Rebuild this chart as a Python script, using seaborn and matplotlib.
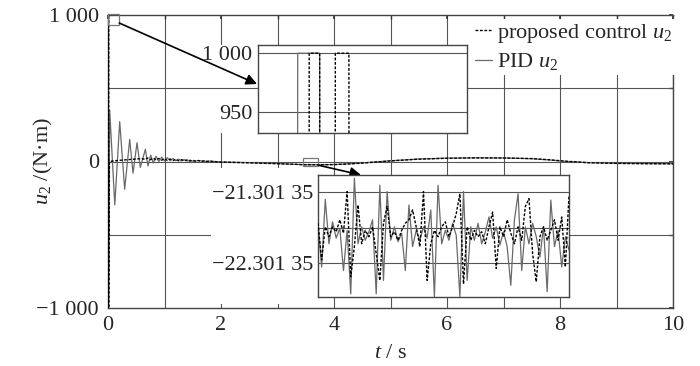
import matplotlib
matplotlib.use("Agg")
import matplotlib.pyplot as plt
import numpy as np
import pandas as pd
import seaborn as sns
from matplotlib.patches import Rectangle
from matplotlib.ticker import FixedLocator, MultipleLocator

sns.set_theme(style="white")
plt.rcParams["font.family"] = ["Liberation Serif", "DejaVu Serif"]
plt.rcParams["mathtext.fontset"] = "custom"
plt.rcParams["mathtext.rm"] = "Liberation Serif"
plt.rcParams["mathtext.it"] = "Liberation Serif:italic"

# ---------------------------------------------------------------------------
# data
# ---------------------------------------------------------------------------
# start-up transient (both controllers saturate at +/-1000 first)
prop_t_start = [0, 0.0048, 0.0049, 0.0059, 0.0060, 0.0073, 0.0074, 0.0087, 0.0088, 0.012,
                0.025, 0.1, 0.2, 0.3, 0.4, 0.5, 0.6, 0.65, 0.7, 0.75, 0.8, 0.85, 0.9, 0.95,
                1.0, 1.05, 1.1, 1.15, 1.2, 1.25, 1.3, 1.35, 1.4, 1.45, 1.5, 1.55, 1.6, 1.65,
                1.7, 1.75, 1.8, 1.9, 2.0, 2.5, 3.0, 3.3]
prop_u_start = [0, -1000, 1000, 1000, -1000, -1000, 1000, 1000, -1000, -1000,
                0, 4, 8, 11, 14, 17, 20, 14, 24, 12, 23, 10, 21, 9,
                19, 7, 17, 6, 15, 5, 13, 4, 11, 3, 9, 2, 7, 1,
                5, 0, 2, -2, -4, -9, -15, -19]

pid_t_start = [0, 0.0037, 0.0038, 0.0059, 0.0060, 0.03, 0.12, 0.207, 0.295, 0.384, 0.443,
               0.513, 0.572, 0.661, 0.708, 0.755, 0.80, 0.85, 0.90, 0.95, 1.0, 1.05, 1.1,
               1.15, 1.2, 1.25, 1.3, 1.35, 1.4, 1.45, 1.5, 1.6, 1.7, 1.8, 1.9, 2.0, 2.5,
               3.0, 3.3]
pid_u_start = [0, 0, 1000, 1000, -1000, 352, -297, 272, -190, 151, -80,
               128, -40, 83, -31, 44, -10, 35, 0, 30, 4, 26, 5,
               20, 6, 16, 4, 13, 3, 10, 2, 6, 1, 3, 0, -3, -8,
               -14, -19]

# zoomed window t = 3.45 ... 3.72 s
zoom_t = np.linspace(3.45, 3.72, 70)
prop_u_zoom = [-21.74, -22.26, -21.79, -21.93, -21.79, -21.86, -21.69, -21.88, -21.29, -22.50,
               -22.07, -21.48, -22.03, -21.84, -21.93, -21.79, -22.17, -22.55, -21.74, -21.50,
               -21.93, -21.86, -21.98, -21.84, -21.74, -21.69, -21.55, -21.79, -22.07, -21.29,
               -22.55, -22.03, -21.84, -21.93, -21.79, -21.72, -21.93, -21.79, -21.60, -21.32,
               -22.60, -21.79, -21.98, -21.84, -21.93, -21.86, -22.03, -21.79, -21.58, -22.38,
               -21.79, -21.93, -21.69, -21.88, -22.03, -21.79, -21.98, -21.50, -21.39, -22.17,
               -22.57, -21.93, -21.79, -21.98, -21.84, -21.69, -21.98, -21.65, -22.36, -21.34]
pid_u_zoom = [-21.74, -22.36, -21.40, -22.03, -21.72, -21.95, -21.81, -22.41, -21.84, -22.74,
              -21.10, -22.03, -21.79, -21.98, -21.86, -21.69, -22.74, -21.20, -22.55, -21.29,
              -21.98, -21.79, -22.00, -21.88, -22.41, -21.48, -22.07, -21.84, -21.98, -21.79,
              -21.95, -21.55, -22.78, -21.20, -22.03, -21.84, -21.98, -21.74, -21.91, -22.78,
              -21.29, -22.55, -21.79, -21.98, -21.74, -22.03, -21.86, -21.65, -21.95, -21.79,
              -22.05, -21.86, -22.07, -22.62, -21.69, -21.32, -22.41, -21.79, -22.03, -21.74,
              -21.93, -22.22, -21.79, -22.71, -21.41, -22.07, -21.84, -22.36, -21.93, -22.12]

# slow drift afterwards
late_t = [3.8, 4.0, 4.3, 4.6, 5.0, 5.5, 6.0, 6.5, 7.0, 7.5, 7.8, 8.1, 8.5, 9.0, 9.5, 10.0]
prop_u_late = [-22, -21, -16, -8, 4, 16, 22, 25, 24, 20, 12, 2, -8, -13, -15, -16]
pid_u_late = [-22, -21, -15, -7, 5, 17, 23, 25, 24, 19, 11, 1, -8, -12, -14, -15]

prop = pd.DataFrame({
    "t": np.concatenate([prop_t_start, zoom_t, late_t]),
    "u": np.concatenate([prop_u_start, prop_u_zoom, prop_u_late]),
})
pid = pd.DataFrame({
    "t": np.concatenate([pid_t_start, zoom_t, late_t]),
    "u": np.concatenate([pid_u_start, pid_u_zoom, pid_u_late]),
})

PROP_STYLE = dict(color="black", linewidth=1.0, linestyle=(0, (2.0, 1.2)))
PID_STYLE = dict(color="#6a6a6a", linewidth=0.9, linestyle="-")
GRID = dict(color="#555555", linewidth=0.8)
FS = 16

# ---------------------------------------------------------------------------
# main axes
# ---------------------------------------------------------------------------
fig = plt.figure(figsize=(7.0, 3.66), dpi=100)
ax = fig.add_axes([108 / 700, 1 - 308 / 366, 565 / 700, 293 / 366])

sns.lineplot(data=prop, x="t", y="u", ax=ax, estimator=None, sort=False,
             label=r"proposed control $u_2$", zorder=3, **PROP_STYLE)
sns.lineplot(data=pid, x="t", y="u", ax=ax, estimator=None, sort=False,
             label=r"PID $u_2$", zorder=2, **PID_STYLE)

ax.set_xlim(0, 10)
ax.set_ylim(-1000, 1000)
ax.xaxis.set_major_locator(MultipleLocator(2))
ax.xaxis.set_minor_locator(MultipleLocator(1))
ax.yaxis.set_major_locator(FixedLocator([-1000, 0, 1000]))
ax.yaxis.set_minor_locator(FixedLocator([-500, 500]))
ax.set_yticklabels(["\u22121 000", "0", "1 000"])
ax.grid(axis="x", which="both", **GRID)
ax.set_axisbelow(True)
for yv in [-500, 0, 500]:
    ax.axhline(yv, zorder=1.6, **GRID)
ax.tick_params(which="both", direction="in", length=3, color="#333333",
               labelsize=FS, top=True, right=True)
ax.tick_params(axis="x", pad=6)
ax.tick_params(axis="y", pad=6.5)
for s in ax.spines.values():
    s.set_color("#444444")
    s.set_linewidth(1.0)
ax.set_xlabel(r"$t$ / s", fontsize=FS, labelpad=6)
ax.set_ylabel(r"$u_2$ /(N·m)", fontsize=FS)
ax.yaxis.set_label_coords(-0.094, 0.5)

leg = ax.legend(loc="upper right", bbox_to_anchor=(1.003, 0.985), fontsize=FS,
                frameon=True, framealpha=1, facecolor="white", edgecolor="none",
                handlelength=0.8, handletextpad=0.2, borderpad=0.1,
                borderaxespad=0.0, labelspacing=0.3, fancybox=False)
leg.set_zorder(5)

# white areas behind the inset tick labels
ax.add_patch(Rectangle((205 / 700, 1 - 133 / 366), 53 / 700, 88 / 366,
                       transform=fig.transFigure, facecolor="white", edgecolor="none",
                       zorder=1.5, clip_on=False))
ax.add_patch(Rectangle((211 / 700, 1 - 304 / 366), 107 / 700, 136 / 366,
                       transform=fig.transFigure, facecolor="white", edgecolor="none",
                       zorder=2.5, clip_on=False))

# zoom boxes and arrows
ax.add_patch(Rectangle((0, 932), 0.2, 78, fill=False, edgecolor="#777777",
                       linewidth=0.9, zorder=4, clip_on=False))
ax.add_patch(Rectangle((3.45, -28), 0.27, 55, fill=False, edgecolor="#777777",
                       linewidth=0.9, zorder=4))
arrow = dict(arrowstyle="-|>", color="black", lw=1.2, mutation_scale=16,
             shrinkA=0, shrinkB=0)
ax.annotate("", xy=(257 / 700, 1 - 84 / 366), xycoords="figure fraction",
            xytext=(0.2, 945), textcoords="data", arrowprops=arrow, zorder=4)
ax.annotate("", xy=(361 / 700, 1 - 175 / 366), xycoords="figure fraction",
            xytext=(3.72, -25), textcoords="data", arrowprops=arrow, zorder=4)

# ---------------------------------------------------------------------------
# inset 1: saturation at the start
# ---------------------------------------------------------------------------
ax1 = fig.add_axes([258 / 700, 1 - 133 / 366, 209 / 700, 88 / 366], zorder=6)
sns.lineplot(data=prop, x="t", y="u", ax=ax1, estimator=None, sort=False,
             legend=False, zorder=3, **PROP_STYLE)
sns.lineplot(data=pid, x="t", y="u", ax=ax1, estimator=None, sort=False,
             legend=False, zorder=2, **PID_STYLE)
ax1.set_xlim(0, 0.02)
ax1.set_ylim(932, 1007)
ax1.set_xticks([])
ax1.yaxis.set_major_locator(FixedLocator([950, 1000]))
ax1.set_yticklabels(["950", "1 000"])
ax1.grid(axis="y", **GRID)
ax1.set_axisbelow(True)
ax1.tick_params(length=0, labelsize=FS, pad=4)
ax1.set_xlabel("")
ax1.set_ylabel("")
for s in ax1.spines.values():
    s.set_color("#444444")
    s.set_linewidth(1.0)

# ---------------------------------------------------------------------------
# inset 2: steady-state chattering
# ---------------------------------------------------------------------------
ax2 = fig.add_axes([318 / 700, 1 - 297 / 366, 251 / 700, 122 / 366], zorder=6)
sns.lineplot(x=zoom_t, y=pid_u_zoom, ax=ax2, estimator=None, sort=False,
             legend=False, zorder=2, **PID_STYLE)
sns.lineplot(x=zoom_t, y=prop_u_zoom, ax=ax2, estimator=None, sort=False,
             legend=False, zorder=3, **PROP_STYLE)
ax2.set_xlim(3.45, 3.72)
ax2.set_ylim(-22.785, -21.055)
ax2.set_xticks([])
ax2.yaxis.set_major_locator(FixedLocator([-22.30135, -21.30135]))
ax2.yaxis.set_minor_locator(FixedLocator([-21.80135]))
ax2.set_yticklabels(["\u221222.301 35", "\u221221.301 35"])
ax2.grid(axis="y", which="both", **GRID)
ax2.set_axisbelow(True)
ax2.tick_params(which="both", length=0, labelsize=FS, pad=3)
for s in ax2.spines.values():
    s.set_color("#444444")
    s.set_linewidth(1.0)

fig.savefig("out.png", dpi=100, facecolor="white")
